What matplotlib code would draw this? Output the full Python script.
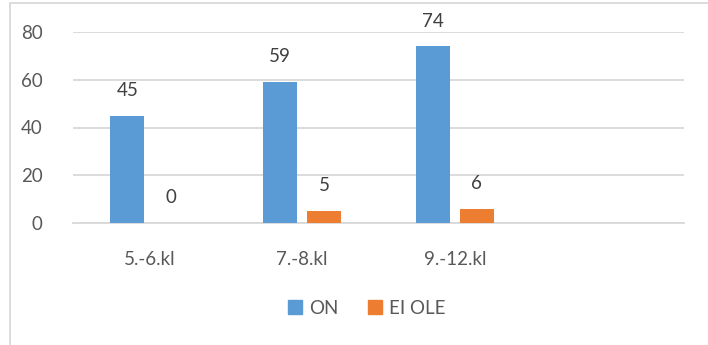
import matplotlib
matplotlib.use("Agg")
from matplotlib import pyplot as plt
from matplotlib.patches import Rectangle
import numpy as np

categories = ["5.-6.kl", "7.-8.kl", "9.-12.kl", ""]
on_values = [45, 59, 74, None]
ei_ole_values = [0, 5, 6, None]
series_names = ["ON", "EI OLE"]
yticks = [0, 20, 40, 60, 80]

blue = "#5B9BD5"
orange = "#ED7D31"
textcol = "#595959"
gridcol = "#D9D9D9"

plt.rcParams['font.family'] = ['Lato', 'DejaVu Sans']

fig = plt.figure(figsize=(7.08, 3.45), dpi=100)
W, H = 708, 345
ax = fig.add_axes([73 / W, 1 - 223 / H, (684 - 73) / W, (223 - 32) / H])

x = np.arange(len(categories))
width = 0.2226
off = 0.144

for i, (a, b) in enumerate(zip(on_values, ei_ole_values)):
    if a is None:
        continue
    ax.bar(x[i] - off, a, width, color=blue, zorder=3)
    ax.bar(x[i] + off, b, width, color=orange, zorder=3)
    ax.text(x[i] - off, a + 7, str(a), ha='center', va='bottom', fontsize=13.5, color="#404040")
    ax.text(x[i] + off, b + 7, str(b), ha='center', va='bottom', fontsize=13.5, color="#404040")

ax.set_xlim(-0.5, len(categories) - 0.5)
ax.set_ylim(0, 80)
ax.set_yticks(yticks)
ax.yaxis.grid(True, color=gridcol, linewidth=1.3, zorder=0)
ax.set_xticks(x)
ax.set_xticklabels(categories)
ax.tick_params(axis='both', length=0, labelsize=13.5, colors=textcol)
ax.tick_params(axis='y', pad=22)
ax.tick_params(axis='x', pad=20)
for s in ['top', 'right', 'left']:
    ax.spines[s].set_visible(False)
ax.spines['bottom'].set_color(gridcol)
ax.spines['bottom'].set_linewidth(1.3)

# chart area border (cropped on the right and bottom)
fig.add_artist(Rectangle((9.5 / W, -0.1), 1.2, (342 / H) + 0.1,
                         transform=fig.transFigure, fill=False,
                         edgecolor="#D9D9D9", linewidth=1.3))

handles = [Rectangle((0, 0), 1, 1, color=blue), Rectangle((0, 0), 1, 1, color=orange)]
fig.legend(handles, series_names, loc='center', bbox_to_anchor=(367 / W, 1 - 308 / H),
           ncol=2, frameon=False, fontsize=13.5, labelcolor=textcol,
           handlelength=0.7, handleheight=0.7, handletextpad=0.4, columnspacing=1.6)

fig.savefig("out.png", dpi=100)
